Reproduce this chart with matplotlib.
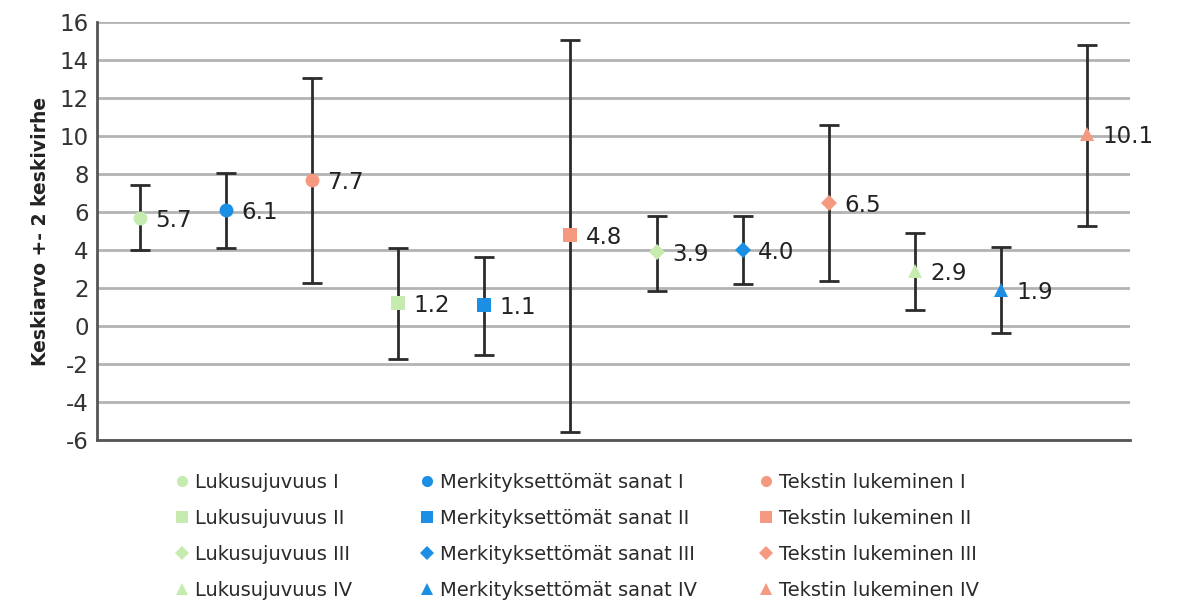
import matplotlib
matplotlib.use("Agg")
import matplotlib.pyplot as plt

series = ["Lukusujuvuus I", "Merkityksettömät sanat I", "Tekstin lukeminen I",
          "Lukusujuvuus II", "Merkityksettömät sanat II", "Tekstin lukeminen II",
          "Lukusujuvuus III", "Merkityksettömät sanat III", "Tekstin lukeminen III",
          "Lukusujuvuus IV", "Merkityksettömät sanat IV", "Tekstin lukeminen IV"]
means = [5.7, 6.1, 7.7, 1.2, 1.1, 4.8, 3.9, 4.0, 6.5, 2.9, 1.9, 10.1]
upper = [7.42, 8.05, 13.05, 4.1, 3.63, 15.05, 5.79, 5.79, 10.58, 4.89, 4.16, 14.79]
lower = [4.0, 4.1, 2.26, -1.74, -1.53, -5.58, 1.84, 2.2, 2.37, 0.84, -0.37, 5.26]
labels = ["5.7", "6.1", "7.7", "1.2", "1.1", "4.8", "3.9", "4.0", "6.5", "2.9", "1.9", "10.1"]
yticks = [-6, -4, -2, 0, 2, 4, 6, 8, 10, 12, 14, 16]

group_colors = {"Luku": "#c5ecae", "Merk": "#1a8fe3", "Teks": "#f59a80"}
level_markers = {"I": "o", "II": "s", "III": "D", "IV": "^"}

fig = plt.figure(figsize=(11.78, 6.01), dpi=100)
ax = fig.add_axes([97/1178, 1-440/601, (1130-97)/1178, (440-22)/601])

handles = {}
for i, name in enumerate(series):
    color = group_colors[name[:4]]
    mk = level_markers[name.split()[-1]]
    ax.errorbar(i + 0.5, means[i],
                yerr=[[means[i] - lower[i]], [upper[i] - means[i]]],
                fmt='none', ecolor='#2b2b2b', elinewidth=2, capsize=7, capthick=2, zorder=3)
    ms = 10 if mk != "D" else 8.5
    h, = ax.plot(i + 0.5, means[i], marker=mk, color=color, markersize=ms,
                 linestyle='none', zorder=4, label=name, markeredgewidth=0)
    handles[name] = h
    ax.annotate(labels[i], (i + 0.5, means[i]), xytext=(11, -2), textcoords='offset points',
                ha='left', va='center', fontsize=16.5, color='#222222', zorder=5)

ax.set_xlim(0, len(series))
ax.set_ylim(-6, 16)
ax.set_yticks(yticks)
ax.set_yticklabels([str(t) for t in yticks], fontsize=16.5, color='#333333')
ax.set_xticks([])
ax.tick_params(axis='y', length=0, pad=6)
ax.yaxis.grid(True, color='#b3b3b3', linewidth=2)
ax.set_axisbelow(True)
for s in ['top', 'right']:
    ax.spines[s].set_visible(False)
for s in ['left', 'bottom']:
    ax.spines[s].set_color('#555555')
    ax.spines[s].set_linewidth(2)
ax.set_ylabel("Keskiarvo +- 2 keskivirhe", fontsize=13.5, fontweight='bold',
              color='#222222', labelpad=7)

# legend: three columns placed individually
columns = [series[0::3], series[1::3], series[2::3]]
col_x = [174, 419, 758]
for names, x in zip(columns, col_x):
    leg = fig.legend([handles[n] for n in names], names,
                     loc='upper left', bbox_to_anchor=(x/1178, 1-473/601),
                     frameon=False, prop={'family': 'DejaVu Sans', 'size': 14},
                     borderpad=0, borderaxespad=0,
                     handletextpad=0.3, labelspacing=0.87,
                     handlelength=0.8, markerscale=0.8, labelcolor='#2a2a2a')

fig.savefig("out.png", dpi=100)
